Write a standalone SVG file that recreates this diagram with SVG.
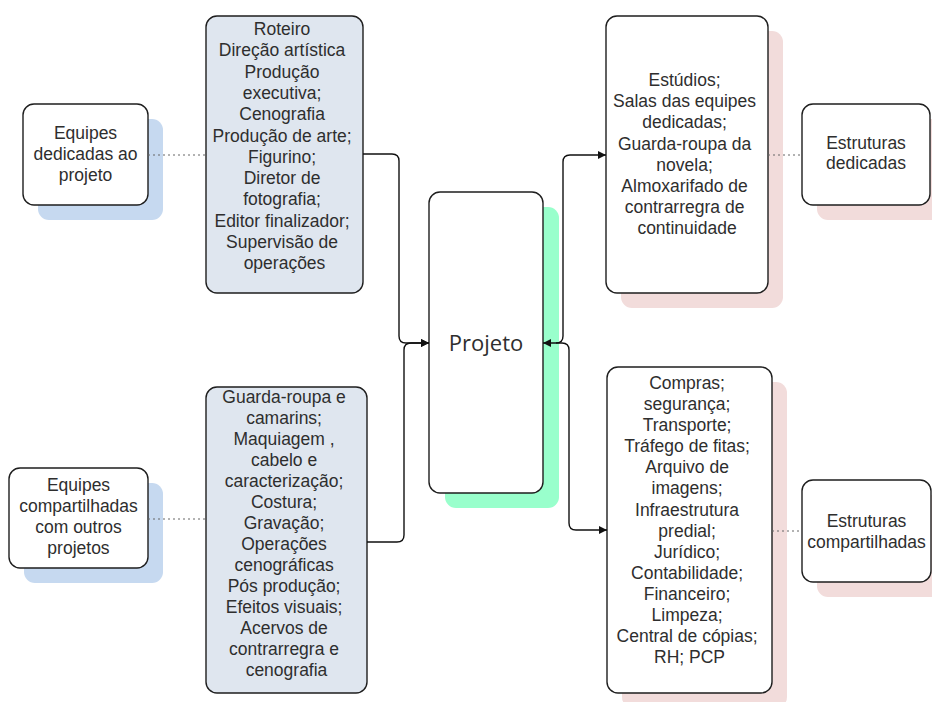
<svg xmlns="http://www.w3.org/2000/svg" width="932" height="702" viewBox="0 0 932 702">
  <style>
    .box { fill: #ffffff; stroke: #1e1e1e; stroke-width: 1.4; }
    .list { fill: #dfe6ef; stroke: #1e1e1e; stroke-width: 1.4; }
    .sh-blue { fill: #c6d9f0; }
    .sh-pink { fill: #f2dcdb; }
    .sh-green { fill: #99ffcc; }
    .lbl { font-family: "Liberation Sans", Arial, sans-serif; font-size: 17.5px; fill: #2e2e2e; text-anchor: middle; }
    .big { font-family: "Open Sans", "Noto Sans", sans-serif; font-size: 22px; fill: #2e2e2e; text-anchor: middle; }
    .link { fill: none; stroke: #111; stroke-width: 1.4; }
    .dot { fill: none; stroke: #666; stroke-width: 1; stroke-dasharray: 2 3; }
  </style>
  <defs>
    <marker id="arrow" viewBox="0 0 10 10" refX="10" refY="5" markerWidth="10" markerHeight="8" markerUnits="userSpaceOnUse" orient="auto-start-reverse">
      <path d="M0,0 L10,5 L0,10 z" fill="#111"/>
    </marker>
  </defs>

  <rect width="932" height="702" fill="#ffffff"/>

  <!-- Equipes dedicadas ao projeto -->
  <g id="equipes-dedicadas">
    <rect class="sh-blue" x="38" y="119" width="125" height="101" rx="11"/>
    <rect class="box" x="23" y="104" width="125" height="101" rx="11"/>
    <text class="lbl" x="85.5"><tspan y="139">Equipes</tspan><tspan x="85.5" y="160">dedicadas ao</tspan><tspan x="85.5" y="181">projeto</tspan></text>
  </g>

  <!-- Equipes compartilhadas com outros projetos -->
  <g id="equipes-compartilhadas">
    <rect class="sh-blue" x="24" y="483" width="139" height="100" rx="11"/>
    <rect class="box" x="9" y="468" width="139" height="100" rx="11"/>
    <text class="lbl" x="78.5"><tspan y="491">Equipes</tspan><tspan x="78.5" y="512">compartilhadas</tspan><tspan x="78.5" y="533">com outros</tspan><tspan x="78.5" y="554">projetos</tspan></text>
  </g>

  <!-- dedicated team list -->
  <g id="lista-dedicadas">
    <rect class="list" x="206" y="16" width="157" height="277" rx="11"/>
    <text class="lbl" x="284.5">
      <tspan x="284.5" y="35">Roteiro</tspan>
      <tspan x="284.5" y="56.3">Direção artística</tspan>
      <tspan x="284.5" y="77.6">Produção</tspan>
      <tspan x="284.5" y="98.9">executiva;</tspan>
      <tspan x="284.5" y="120.2">Cenografia</tspan>
      <tspan x="284.5" y="141.5">Produção de arte;</tspan>
      <tspan x="284.5" y="162.8">Figurino;</tspan>
      <tspan x="284.5" y="184.1">Diretor de</tspan>
      <tspan x="284.5" y="205.4">fotografia;</tspan>
      <tspan x="284.5" y="226.7">Editor finalizador;</tspan>
      <tspan x="284.5" y="248">Supervisão  de</tspan>
      <tspan x="284.5" y="269.3">operações</tspan>
    </text>
  </g>

  <!-- shared team list -->
  <g id="lista-compartilhadas">
    <rect class="list" x="206" y="387" width="161" height="306" rx="11"/>
    <text class="lbl" x="286.5">
      <tspan x="286.5" y="403">Guarda-roupa e</tspan>
      <tspan x="286.5" y="424">camarins;</tspan>
      <tspan x="286.5" y="445">Maquiagem ,</tspan>
      <tspan x="286.5" y="466">cabelo e</tspan>
      <tspan x="286.5" y="487">caracterização;</tspan>
      <tspan x="286.5" y="508">Costura;</tspan>
      <tspan x="286.5" y="529">Gravação;</tspan>
      <tspan x="286.5" y="550">Operações</tspan>
      <tspan x="286.5" y="571">cenográficas</tspan>
      <tspan x="286.5" y="592">Pós produção;</tspan>
      <tspan x="286.5" y="613">Efeitos visuais;</tspan>
      <tspan x="286.5" y="634">Acervos de</tspan>
      <tspan x="286.5" y="655">contrarregra e</tspan>
      <tspan x="286.5" y="676">cenografia</tspan>
    </text>
  </g>

  <!-- Projeto -->
  <g id="projeto">
    <rect class="sh-green" x="445" y="207" width="114" height="301" rx="11"/>
    <rect class="box" x="429" y="192" width="114" height="301" rx="11"/>
    <text class="big" x="486" y="351">Projeto</text>
  </g>

  <!-- dedicated structures list -->
  <g id="lista-estruturas-dedicadas">
    <rect class="sh-pink" x="621" y="31" width="162" height="277" rx="11"/>
    <rect class="box" x="606" y="16" width="162" height="277" rx="11"/>
    <text class="lbl" x="687">
      <tspan x="687" y="86">Estúdios;</tspan>
      <tspan x="687" y="107.2">Salas das equipes</tspan>
      <tspan x="687" y="128.4">dedicadas;</tspan>
      <tspan x="687" y="149.6">Guarda-roupa da</tspan>
      <tspan x="687" y="170.8">novela;</tspan>
      <tspan x="687" y="192">Almoxarifado de</tspan>
      <tspan x="687" y="213.2">contrarregra de</tspan>
      <tspan x="687" y="234.4">continuidade</tspan>
    </text>
  </g>

  <!-- shared structures list -->
  <g id="lista-estruturas-compartilhadas">
    <rect class="sh-pink" x="622" y="382" width="165" height="326" rx="11"/>
    <rect class="box" x="607" y="367" width="165" height="326" rx="11"/>
    <text class="lbl" x="689.5">
      <tspan x="689.5" y="389">Compras;</tspan>
      <tspan x="689.5" y="410.1">segurança;</tspan>
      <tspan x="689.5" y="431.2">Transporte;</tspan>
      <tspan x="689.5" y="452.2">Tráfego de fitas;</tspan>
      <tspan x="689.5" y="473.3">Arquivo de</tspan>
      <tspan x="689.5" y="494.4">imagens;</tspan>
      <tspan x="689.5" y="515.5">Infraestrutura</tspan>
      <tspan x="689.5" y="536.6">predial;</tspan>
      <tspan x="689.5" y="557.6">Jurídico;</tspan>
      <tspan x="689.5" y="578.7">Contabilidade;</tspan>
      <tspan x="689.5" y="599.8">Financeiro;</tspan>
      <tspan x="689.5" y="620.9">Limpeza;</tspan>
      <tspan x="689.5" y="642">Central de cópias;</tspan>
      <tspan x="689.5" y="663">RH; PCP</tspan>
    </text>
  </g>

  <!-- Estruturas dedicadas -->
  <g id="estruturas-dedicadas">
    <rect class="sh-pink" x="817" y="119" width="128" height="101" rx="11"/>
    <rect class="box" x="802" y="104" width="128" height="101" rx="11"/>
    <text class="lbl" x="866"><tspan x="866" y="149">Estruturas</tspan><tspan x="866" y="169">dedicadas</tspan></text>
  </g>

  <!-- Estruturas compartilhadas -->
  <g id="estruturas-compartilhadas">
    <rect class="sh-pink" x="817" y="495" width="129" height="102" rx="11"/>
    <rect class="box" x="802" y="480" width="129" height="102" rx="11"/>
    <text class="lbl" x="866.5"><tspan x="866.5" y="527">Estruturas</tspan><tspan x="866.5" y="548">compartilhadas</tspan></text>
  </g>

  <!-- connectors, drawn last so arrowheads sit on top of box edges -->
  <g id="connectors">
    <path class="dot" d="M148,155 H206"/>
    <path class="dot" d="M148,519 H206"/>
    <path class="dot" d="M768,155 H802"/>
    <path class="dot" d="M772,531 H802"/>
    <path class="link" d="M363,154 H392 Q399,154 399,161 V336 Q399,343 406,343 H429" marker-end="url(#arrow)"/>
    <path class="link" d="M367,542 H397 Q404,542 404,535 V350 Q404,343 411,343 H429" marker-end="url(#arrow)"/>
    <path class="link" d="M543,343 H556 Q563,343 563,336 V162 Q563,155 570,155 H606" marker-start="url(#arrow)" marker-end="url(#arrow)"/>
    <path class="link" d="M556,343 H562 Q569,343 569,350 V523 Q569,530 576,530 H607" marker-end="url(#arrow)"/>
  </g>
</svg>
